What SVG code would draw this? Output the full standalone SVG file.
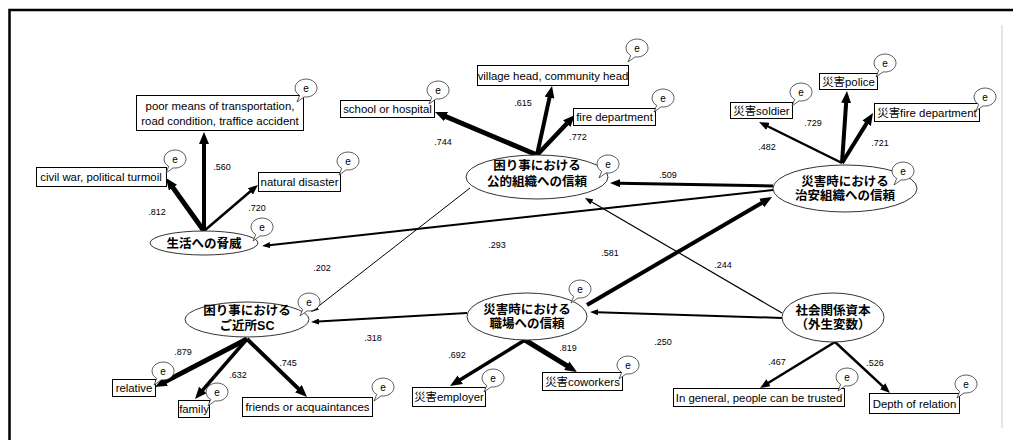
<svg xmlns="http://www.w3.org/2000/svg" xmlns:xlink="http://www.w3.org/1999/xlink" width="1013" height="440" viewBox="0 0 1013 440">
<style>
.box{fill:#fff;stroke:#000;stroke-width:1}
.lv{fill:#fff;stroke:#333;stroke-width:1}
.bub{fill:#fff;stroke:#333;stroke-width:0.8}
.t{font-family:"Liberation Sans","Noto Sans CJK JP",sans-serif;font-size:11.4px;fill:#000;text-anchor:middle}
.j{font-family:"Liberation Sans","Noto Sans CJK JP",sans-serif;font-size:12.5px;font-weight:bold;fill:#000;text-anchor:middle}
.c{font-family:"Liberation Sans",sans-serif;font-size:9px;fill:#000;text-anchor:middle}
.e{font-family:"Liberation Sans",sans-serif;font-size:10px;fill:#000;text-anchor:middle}
.ln{stroke:#000;fill:none}
</style>
<defs>
<marker id="aL" markerUnits="userSpaceOnUse" markerWidth="12" markerHeight="10" refX="1" refY="5" orient="auto"><path d="M0,0 L12,5 L0,10 z" fill="#000"/></marker>
<marker id="aM" markerUnits="userSpaceOnUse" markerWidth="10" markerHeight="8" refX="1" refY="4" orient="auto"><path d="M0,0 L10,4 L0,8 z" fill="#000"/></marker>
<marker id="aS" markerUnits="userSpaceOnUse" markerWidth="8" markerHeight="6" refX="1" refY="3" orient="auto"><path d="M0,0 L8,3 L0,6 z" fill="#000"/></marker>
<path id="bub" class="bub" d="M-1.9,8.9 A11,9 0 1,0 -6.3,7.4 L-9,14 Z"/>
</defs>
<rect x="0" y="0" width="1013" height="440" fill="#fff"/>
<rect x="9.5" y="10" width="1100" height="500" fill="none" stroke="#000" stroke-width="2.5"/>
<line x1="1002" y1="25" x2="1002" y2="428" stroke="#ccc" stroke-width="1"/>

<g id="connectors">
<line class="ln" x1="204" y1="231" x2="204" y2="143" stroke-width="4" marker-end="url(#aL)"/>
<line class="ln" x1="204" y1="231" x2="172.4" y2="186.9" stroke-width="5" marker-end="url(#aL)"/>
<line class="ln" x1="204" y1="231" x2="251.1" y2="190.8" stroke-width="2.5" marker-end="url(#aM)"/>
<line class="ln" x1="537" y1="155" x2="445.1" y2="116.3" stroke-width="5" marker-end="url(#aL)"/>
<line class="ln" x1="537" y1="155" x2="549.7" y2="96.7" stroke-width="4" marker-end="url(#aL)"/>
<line class="ln" x1="537" y1="155" x2="567.4" y2="123" stroke-width="4.5" marker-end="url(#aL)"/>
<line class="ln" x1="842" y1="163" x2="767.1" y2="126" stroke-width="2.5" marker-end="url(#aM)"/>
<line class="ln" x1="842" y1="163" x2="846.2" y2="102" stroke-width="4" marker-end="url(#aL)"/>
<line class="ln" x1="842" y1="163" x2="867.2" y2="122.4" stroke-width="4" marker-end="url(#aL)"/>
<line class="ln" x1="247" y1="339" x2="164.7" y2="381.9" stroke-width="5" marker-end="url(#aL)"/>
<line class="ln" x1="247" y1="339" x2="202.2" y2="390.7" stroke-width="3.5" marker-end="url(#aL)"/>
<line class="ln" x1="247" y1="339" x2="299.1" y2="389.4" stroke-width="4" marker-end="url(#aL)"/>
<line class="ln" x1="525" y1="340" x2="459.4" y2="380.2" stroke-width="3.5" marker-end="url(#aL)"/>
<line class="ln" x1="525" y1="340" x2="567.6" y2="366.2" stroke-width="5" marker-end="url(#aL)"/>
<line class="ln" x1="835" y1="342" x2="767.7" y2="383.3" stroke-width="2.5" marker-end="url(#aM)"/>
<line class="ln" x1="835" y1="342" x2="883.4" y2="386.9" stroke-width="2.5" marker-end="url(#aM)"/>
<line class="ln" x1="773" y1="186" x2="619" y2="183.2" stroke-width="3" marker-end="url(#aM)"/>
<line class="ln" x1="773" y1="190" x2="269" y2="245.2" stroke-width="2" marker-end="url(#aS)"/>
<line class="ln" x1="470" y1="188" x2="316.5" y2="307.7" stroke-width="1" marker-end="url(#aS)"/>
<line class="ln" x1="587" y1="305" x2="762.5" y2="202.5" stroke-width="4" marker-end="url(#aL)"/>
<line class="ln" x1="467" y1="313" x2="318" y2="321.6" stroke-width="2" marker-end="url(#aS)"/>
<line class="ln" x1="782" y1="313" x2="591" y2="201.5" stroke-width="1.2" marker-end="url(#aS)"/>
<line class="ln" x1="782" y1="318" x2="597" y2="312.2" stroke-width="2" marker-end="url(#aS)"/>
<g class="c">
<text x="222" y="170">.560</text>
<text x="157" y="215">.812</text>
<text x="257" y="211">.720</text>
<text x="443" y="145">.744</text>
<text x="523" y="106">.615</text>
<text x="578" y="140">.772</text>
<text x="767" y="150">.482</text>
<text x="813" y="126">.729</text>
<text x="880" y="146">.721</text>
<text x="668" y="178">.509</text>
<text x="497" y="248">.293</text>
<text x="322" y="271">.202</text>
<text x="610" y="256">.581</text>
<text x="723" y="268">.244</text>
<text x="373" y="341">.318</text>
<text x="663" y="345">.250</text>
<text x="183" y="355">.879</text>
<text x="238" y="378">.632</text>
<text x="288" y="366">.745</text>
<text x="457" y="358">.692</text>
<text x="568" y="351">.819</text>
<text x="777" y="365">.467</text>
<text x="875" y="366">.526</text>
</g>
</g>

<g id="threat">
<ellipse class="lv" cx="204" cy="243" rx="54" ry="12"/>
<text class="j" x="204" y="247.5">生活への脅威</text>
<use xlink:href="#bub" x="262" y="227"/><text class="e" x="262" y="230.5">e</text>
</g>
<g id="public-org">
<ellipse class="lv" cx="537" cy="177" rx="71" ry="22"/>
<text class="j" x="537" y="170">困り事における<tspan x="537" dy="16">公的組織への信頼</tspan></text>
<use xlink:href="#bub" x="608" y="164"/><text class="e" x="608" y="167.5">e</text>
</g>
<g id="security-org">
<ellipse class="lv" cx="845" cy="188.5" rx="72" ry="23.5"/>
<text class="j" x="845" y="185.5">災害時における<tspan x="845" dy="14.2">治安組織への信頼</tspan></text>
<use xlink:href="#bub" x="903" y="171"/><text class="e" x="903" y="174.5">e</text>
</g>
<g id="neighbor-sc">
<ellipse class="lv" cx="247" cy="319.5" rx="62" ry="17.5"/>
<text class="j" x="247" y="315">困り事における<tspan x="247" dy="14.5">ご近所SC</tspan></text>
<use xlink:href="#bub" x="309" y="302"/><text class="e" x="309" y="305.5">e</text>
</g>
<g id="workplace">
<ellipse class="lv" cx="527" cy="316.5" rx="60" ry="23.5"/>
<text class="j" x="527" y="313.5">災害時における<tspan x="527" dy="14.5">職場への信頼</tspan></text>
<use xlink:href="#bub" x="580" y="289"/><text class="e" x="580" y="292.5">e</text>
</g>
<g id="social-capital">
<ellipse class="lv" cx="833" cy="317.5" rx="51" ry="24.5"/>
<text class="j" x="833" y="314.5">社会関係資本<tspan x="833" dy="14.5">（外生変数）</tspan></text>
</g>

<g id="poor-transport">
<rect class="box" x="136.5" y="95.5" width="167" height="35"/>
<text class="t" x="220" y="110">poor means of transportation,<tspan x="220" dy="15">road condition, traffice accident</tspan></text>
<use xlink:href="#bub" x="306" y="88"/><text class="e" x="306" y="91.5">e</text>
</g>
<g id="civil-war">
<rect class="box" x="36.5" y="167.5" width="130" height="19"/>
<text class="t" x="101" y="181">civil war, political turmoil</text>
<use xlink:href="#bub" x="175" y="159"/><text class="e" x="175" y="162.5">e</text>
</g>
<g id="natural-disaster">
<rect class="box" x="258.5" y="172.5" width="82" height="19"/>
<text class="t" x="299.5" y="186">natural disaster</text>
<use xlink:href="#bub" x="348" y="161"/><text class="e" x="348" y="164.5">e</text>
</g>
<g id="school">
<rect class="box" x="340.5" y="100.5" width="94" height="17"/>
<text class="t" x="387.5" y="113">school or hospital</text>
<use xlink:href="#bub" x="438" y="90"/><text class="e" x="438" y="93.5">e</text>
</g>
<g id="village-head">
<rect class="box" x="477.5" y="65.5" width="151" height="20"/>
<text class="t" x="553" y="79.5">village head, community head</text>
<use xlink:href="#bub" x="637" y="48"/><text class="e" x="637" y="51.5">e</text>
</g>
<g id="fire-dept">
<rect class="box" x="573.5" y="108.5" width="82" height="17"/>
<text class="t" x="614.5" y="121">fire department</text>
<use xlink:href="#bub" x="663" y="98"/><text class="e" x="663" y="101.5">e</text>
</g>
<g id="soldier">
<rect class="box" x="730.5" y="102.5" width="62" height="16"/>
<text class="t" x="761.5" y="115">災害soldier</text>
<use xlink:href="#bub" x="801" y="92"/><text class="e" x="801" y="95.5">e</text>
</g>
<g id="police">
<rect class="box" x="819.5" y="73.5" width="58" height="16"/>
<text class="t" x="848.5" y="86">災害police</text>
<use xlink:href="#bub" x="885" y="63"/><text class="e" x="885" y="66.5">e</text>
</g>
<g id="disaster-fire">
<rect class="box" x="874.5" y="103.5" width="105" height="18"/>
<text class="t" x="927" y="117">災害fire department</text>
<use xlink:href="#bub" x="985" y="97"/><text class="e" x="985" y="100.5">e</text>
</g>
<g id="relative">
<rect class="box" x="112.5" y="379.5" width="43" height="17"/>
<text class="t" x="134" y="392">relative</text>
<use xlink:href="#bub" x="163" y="371"/><text class="e" x="163" y="374.5">e</text>
</g>
<g id="family">
<rect class="box" x="178.5" y="400.5" width="31" height="17"/>
<text class="t" x="194" y="413">family</text>
<use xlink:href="#bub" x="217" y="392"/><text class="e" x="217" y="395.5">e</text>
</g>
<g id="friends">
<rect class="box" x="242.5" y="397.5" width="130" height="19"/>
<text class="t" x="307.5" y="411">friends or acquaintances</text>
<use xlink:href="#bub" x="383" y="387"/><text class="e" x="383" y="390.5">e</text>
</g>
<g id="employer">
<rect class="box" x="412.5" y="387.5" width="73" height="19"/>
<text class="t" x="449" y="401">災害employer</text>
<use xlink:href="#bub" x="493" y="378"/><text class="e" x="493" y="381.5">e</text>
</g>
<g id="coworkers">
<rect class="box" x="542.5" y="372.5" width="80" height="18"/>
<text class="t" x="582.5" y="386">災害coworkers</text>
<use xlink:href="#bub" x="628" y="365"/><text class="e" x="628" y="368.5">e</text>
</g>
<g id="trusted">
<rect class="box" x="673.5" y="388.5" width="171" height="18"/>
<text class="t" x="759" y="402">In general, people can be trusted</text>
<use xlink:href="#bub" x="847" y="377"/><text class="e" x="847" y="380.5">e</text>
</g>
<g id="depth">
<rect class="box" x="869.5" y="393.5" width="90" height="20"/>
<text class="t" x="914.5" y="407.5">Depth of relation</text>
<use xlink:href="#bub" x="966" y="384"/><text class="e" x="966" y="387.5">e</text>
</g>
</svg>
